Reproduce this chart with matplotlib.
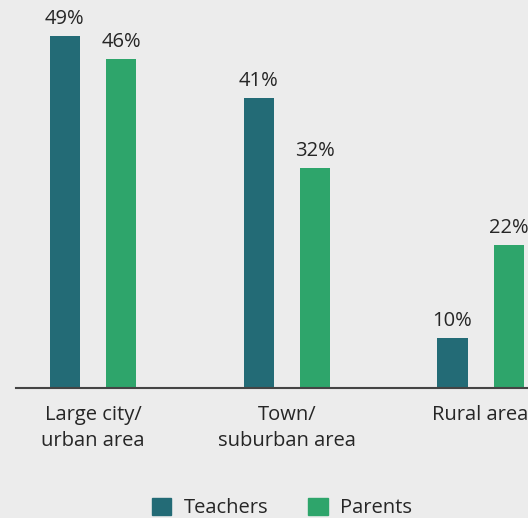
import matplotlib
matplotlib.use("Agg")
import matplotlib.pyplot as plt
import numpy as np
from matplotlib.patches import Patch

categories = ["Large city/\nurban area", "Town/\nsuburban area", "Rural area"]
teachers = [49, 41, 10]
parents = [46, 32, 22]
series_names = ["Teachers", "Parents"]

plt.rcParams['font.family'] = ['Open Sans', 'DejaVu Sans']
bg = "#ececec"
c_teach = "#236b76"
c_par = "#2ea56b"
txt = "#262626"

W, H = 528, 518
fig = plt.figure(figsize=(W/100, H/100), dpi=100, facecolor=bg)
ax = fig.add_axes([16/W, 130/H, (W-16)/W, 388/H])
ax.set_facecolor(bg)

x = np.arange(len(categories))
off = 0.1445
bw = 0.155
b1 = ax.bar(x - off, teachers, bw, color=c_teach, bottom=0)
b2 = ax.bar(x + off, parents, bw, color=c_par, bottom=0)

ax.set_xlim(-0.397, 2.245)
ax.set_ylim(3.54, 53.67)

fs = 14.5
for bars, vals in ((b1, teachers), (b2, parents)):
    for r, v in zip(bars, vals):
        ax.annotate(f"{v}%", (r.get_x() + r.get_width()/2, v), xytext=(0, 5),
                    textcoords="offset points", ha="center", va="bottom",
                    fontsize=fs, color=txt)

for s in ["top", "right", "left"]:
    ax.spines[s].set_visible(False)
ax.spines["bottom"].set_color("#444444")
ax.spines["bottom"].set_linewidth(1.5)
ax.set_yticks([])
ax.set_xticks(x)
ax.set_xticklabels(categories, fontsize=fs, color=txt, linespacing=1.4)
ax.tick_params(axis="x", length=0, pad=12)

handles = [Patch(color=c_teach, label=series_names[0]), Patch(color=c_par, label=series_names[1])]
fig.legend(handles=handles, loc="center", bbox_to_anchor=(282/W, 1 - 508/H), ncol=2,
           frameon=False, fontsize=fs, handlelength=0.95, handleheight=0.95,
           handletextpad=0.6, columnspacing=2.0, labelcolor=txt)

fig.savefig("out.png", dpi=100, facecolor=bg)
